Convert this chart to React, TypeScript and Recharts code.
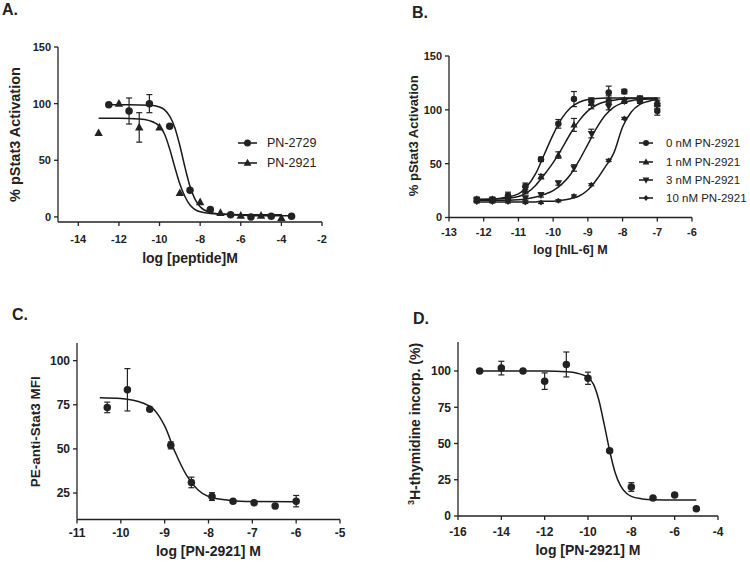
import React from "react";
import { ComposedChart, XAxis, YAxis, Scatter, Line, ErrorBar, Legend } from "recharts";

const FONT = '"Liberation Sans", Arial, sans-serif';
const INK = "#222";

// ---- A: pStat3 vs peptide
const A_X_2729 = [-12.5, -11.5, -10.5, -9.5, -8.5, -7.5, -6.5, -5.5, -4.5, -3.5];
const A_Y_2729 = [99, 93.5, 100, 80, 23.5, 6.5, 2, 0, 0.5, 0.5];
const A_E_2729 = [0, 11.5, 8, 0, 0, 0, 0, 0, 0, 0];
const A_X_2921 = [-13, -12, -11, -10, -9, -8, -7, -6, -5, -4];
const A_Y_2921 = [74, 100, 79, 79, 21, 13, 3.5, 1, 1, -1];
const A_E_2921 = [0, 0, 13, 0, 0, 0, 0, 0, 0, 0];
const A_FIT_X_2729 = [-12.5, -11.5, -10.5, -10, -9.75, -9.5, -9.25, -9, -8.75, -8.5, -8.25, -8, -7.5, -7, -6, -5, -3.5];
const A_FIT_Y_2729 = [99, 99, 98.5, 97, 94.5, 89, 79, 63, 44, 27, 15.5, 9, 4, 2.5, 1.5, 1, 1];
const A_FIT_X_2921 = [-13, -12, -11, -10.5, -10, -9.75, -9.5, -9.25, -9, -8.75, -8.5, -8.25, -8, -7.5, -7, -6, -4];
const A_FIT_Y_2921 = [87, 87, 86.5, 85, 80, 73, 60, 44, 29, 18, 10.5, 6.5, 4.5, 3, 2.5, 2, 2];
const A_XTICKS = [-14, -12, -10, -8, -6, -4, -2];
const A_YTICKS = [0, 50, 100, 150];

// ---- B: pStat3 vs hIL-6 at 4 inhibitor doses
const B_NAMES = ["0 nM PN-2921", "1 nM PN-2921", "3 nM PN-2921", "10 nM PN-2921"];
const B_X = [-12.2, -11.75, -11.3, -10.8, -10.35, -9.85, -9.4, -8.9, -8.4, -7.95, -7.5, -7.0];
const B_Y_0 = [16.5, 16.5, 20.5, 29, 54, 87, 110, 108, 116, 117, 110, 99];
const B_E_0 = [2, 2, 3, 3, 2, 4, 7, 3, 6, 2, 3, 4];
const B_Y_1 = [17, 17, 18, 25, 38, 58, 86, 106, 110, 109, 110, 106];
const B_E_1 = [2, 2, 2, 3, 2, 3, 6, 5, 3, 2, 2, 3];
const B_Y_3 = [16, 16, 16, 18, 21, 32, 46, 78, 103, 108, 110, 104];
const B_E_3 = [2, 2, 2, 2, 2, 2, 3, 4, 3, 2, 2, 3];
const B_Y_10 = [14.5, 14.5, 14.5, 14, 14, 15.5, 20, 30.5, 53, 92, 108, 108];
const B_E_10 = [1, 1, 1, 1, 1, 1, 1, 1, 1, 1, 2, 3];
const B_FIT_X = [-12.2, -11.5, -11, -10.75, -10.5, -10.25, -10, -9.75, -9.5, -9.25, -9, -8.75, -8.5, -8.25, -8, -7.75, -7.5, -7.25, -7];
const B_FIT_0 = [16.5, 18, 22, 29, 41, 59, 77, 92, 102, 107, 109.5, 110.5, 111, 111, 111, 111, 111, 111, 111];
const B_FIT_1 = [17, 17.5, 19.5, 23, 30, 40, 51, 64, 78, 90, 99, 104.5, 107.5, 109, 110, 110.5, 110.5, 110.5, 110.5];
const B_FIT_3 = [16, 16, 16.5, 17.5, 19, 21.5, 25, 31, 40, 53, 68, 83, 95, 102.5, 106.5, 108.5, 109.5, 110, 110];
const B_FIT_10 = [14.5, 14.5, 14.5, 14.5, 14.5, 15, 15, 16, 17.5, 20, 25.5, 35, 47, 60, 84, 98, 105, 108, 109.5];
const B_XTICKS = [-13, -12, -11, -10, -9, -8, -7, -6];
const B_YTICKS = [0, 50, 100, 150];

// ---- C: PE-anti-Stat3 MFI
const C_X = [-10.31, -9.85, -9.34, -8.86, -8.39, -7.92, -7.44, -6.96, -6.48, -6.0];
const C_Y = [73.5, 83.5, 72.5, 52, 31, 23, 20.3, 19.5, 17.6, 20.4];
const C_E = [3, 12, 0.5, 2, 3, 2.2, 0.5, 0.5, 0.5, 3.2];
const C_FIT_X = [-10.48, -10, -9.5, -9.25, -9, -8.75, -8.5, -8.25, -8, -7.5, -7, -6];
const C_FIT_Y = [79, 78.5, 76, 72.5, 63, 47.5, 35, 27, 23, 20.8, 20.2, 20];
const C_XTICKS = [-11, -10, -9, -8, -7, -6, -5];
const C_YTICKS = [25, 50, 75, 100];

// ---- D: 3H-thymidine incorporation
const D_X = [-15, -14, -13, -12, -11, -10, -9, -8, -7, -6, -5];
const D_Y = [100, 102, 100, 93, 104.5, 95, 45, 20, 12.5, 14.5, 5];
const D_E = [0, 4.7, 0, 5.7, 8.6, 4.2, 0, 3, 0, 0, 0];
const D_FIT_X = [-15, -13, -12, -11, -10.5, -10, -9.75, -9.5, -9.25, -9, -8.75, -8.5, -8.25, -8, -7.5, -7, -6, -5];
const D_FIT_Y = [100, 100, 100, 99.5, 98.5, 95.5, 91, 80, 63, 45, 30, 21, 16, 13.5, 11.8, 11.2, 11, 11];
const D_XTICKS = [-16, -14, -12, -10, -8, -6, -4];
const D_YTICKS = [0, 25, 50, 75, 100];

type Kind = "circle" | "up" | "down" | "diamond";

const KIND: Record<string, Kind> = {
  "PN-2729": "circle",
  "PN-2921": "up",
  "0 nM PN-2921": "circle",
  "1 nM PN-2921": "up",
  "3 nM PN-2921": "down",
  "10 nM PN-2921": "diamond",
};

const pts = (xs: number[], ys: number[], es?: number[]) =>
  xs.map((x, i) => ({ x, y: ys[i], err: es ? es[i] : 0 }));

function Marker({ kind, cx, cy, s }: { kind: Kind; cx: number; cy: number; s: number }) {
  const h = s / 2;
  if (kind === "up")
    return <polygon points={`${cx},${cy - 0.62 * s} ${cx + 0.56 * s},${cy + 0.4 * s} ${cx - 0.56 * s},${cy + 0.4 * s}`} fill={INK} />;
  if (kind === "down")
    return <polygon points={`${cx},${cy + 0.62 * s} ${cx + 0.56 * s},${cy - 0.4 * s} ${cx - 0.56 * s},${cy - 0.4 * s}`} fill={INK} />;
  if (kind === "diamond")
    return <polygon points={`${cx},${cy - h} ${cx + h * 0.85},${cy} ${cx},${cy + h} ${cx - h * 0.85},${cy}`} fill={INK} />;
  return <circle cx={cx} cy={cy} r={h} fill={INK} />;
}

const shapeOf = (kind: Kind, s: number) => (p: any) =>
  p.cx == null ? <g /> : <Marker kind={kind} cx={p.cx} cy={p.cy} s={s} />;

function XTitle({ viewBox, text, dy, px }: any) {
  const x = viewBox.x + viewBox.width / 2;
  return (
    <text x={x} y={viewBox.y + dy} textAnchor="middle" fontFamily={FONT} fontWeight={700} fontSize={px} fill={INK}>
      {text}
    </text>
  );
}

function YTitle({ viewBox, text, dx, dy = 0, px, sup }: any) {
  const x = viewBox.x + dx;
  const y = viewBox.y + viewBox.height / 2 + dy;
  return (
    <text x={x} y={y} transform={`rotate(-90 ${x} ${y})`} textAnchor="middle" fontFamily={FONT} fontWeight={700} fontSize={px} fill={INK}>
      {sup ? <tspan fontSize={px * 0.65} dy={-px * 0.4}>{sup}</tspan> : null}
      {sup ? <tspan dy={px * 0.4}>{text}</tspan> : text}
    </text>
  );
}

function LegendBox({ payload, order, rowH, lineW, gap, fontPx, mark }: any) {
  const items = (payload || [])
    .filter((p: any) => p.type !== "none" && order.includes(p.value))
    .sort((a: any, b: any) => order.indexOf(a.value) - order.indexOf(b.value));
  return (
    <div style={{ fontFamily: FONT, color: INK }}>
      {items.map((p: any) => (
        <div key={p.value} style={{ display: "flex", alignItems: "center", height: rowH }}>
          <svg width={lineW} height={12} style={{ display: "block", flex: "none" }}>
            <line x1={0} x2={lineW} y1={6} y2={6} stroke={INK} strokeWidth={1.6} />
            <Marker kind={KIND[p.value]} cx={lineW / 2} cy={6} s={mark} />
          </svg>
          <span style={{ marginLeft: gap, whiteSpace: "nowrap", fontSize: fontPx, fontFamily: FONT }}>{p.value}</span>
        </div>
      ))}
    </div>
  );
}

const axisStroke = { stroke: INK, strokeWidth: 1.3 };
const tickFont = (px: number) => ({ fill: INK, fontSize: px, fontWeight: 700, fontFamily: FONT });

function Letter({ text, left, top }: { text: string; left: number; top: number }) {
  return (
    <div style={{ position: "absolute", left, top, fontFamily: FONT, fontWeight: 700, fontSize: 16, lineHeight: "16px", color: INK }}>
      {text}
    </div>
  );
}

function fitLine(xs: number[], ys: number[], key: string) {
  return (
    <Line key={key} data={pts(xs, ys)} dataKey="y" type="monotone" dot={false} activeDot={false}
      stroke="#1a1a1a" strokeWidth={1.5} legendType="none" isAnimationActive={false} />
  );
}

export default function App() {
  return (
    <div style={{ position: "absolute", left: 0, top: 0, width: 750, height: 568, background: "#fff", overflow: "hidden" }}>
      <Letter text="A." left={2} top={1.5} />
      <Letter text="B." left={412} top={4.5} />
      <Letter text="C." left={12} top={306.5} />
      <Letter text="D." left={413} top={310.5} />

      {/* A */}
      <div style={{ position: "absolute", left: 0, top: 30 }}>
        <ComposedChart width={370} height={250} margin={{ top: 17, right: 48, bottom: 13, left: 0 }}>
          <XAxis type="number" dataKey="x" domain={[-15, -2]} ticks={A_XTICKS} interval={0} allowDataOverflow height={45}
            axisLine={axisStroke} tickLine={axisStroke} tickSize={4} tickMargin={9} tick={tickFont(11)}
            label={<XTitle text="log [peptide]M" dy={40.5} px={14} />} />
          <YAxis type="number" dataKey="y" domain={[-4.5, 150]} ticks={A_YTICKS} interval={0} allowDataOverflow width={58}
            axisLine={axisStroke} tickLine={axisStroke} tickSize={4} tickMargin={3} tick={tickFont(11)}
            label={<YTitle text="% pStat3 Activation" dx={20} px={14.5} />} />
          {fitLine(A_FIT_X_2729, A_FIT_Y_2729, "fa1")}
          {fitLine(A_FIT_X_2921, A_FIT_Y_2921, "fa2")}
          <Scatter name="PN-2729" data={pts(A_X_2729, A_Y_2729, A_E_2729)} shape={shapeOf("circle", 7.5)} isAnimationActive={false}>
            <ErrorBar dataKey="err" direction="y" width={3} stroke={INK} strokeWidth={1.2} isAnimationActive={false} />
          </Scatter>
          <Scatter name="PN-2921" data={pts(A_X_2921, A_Y_2921, A_E_2921)} shape={shapeOf("up", 7.5)} isAnimationActive={false}>
            <ErrorBar dataKey="err" direction="y" width={3} stroke={INK} strokeWidth={1.2} isAnimationActive={false} />
          </Scatter>
          <Legend layout="horizontal" align="center" verticalAlign="middle" wrapperStyle={{ left: 238, top: 103, width: 130 }}
            content={<LegendBox order={["PN-2729", "PN-2921"]} rowH={20} lineW={19} gap={10} fontPx={12.5} mark={7} />} />
        </ComposedChart>
      </div>

      {/* B */}
      <div style={{ position: "absolute", left: 375, top: 30 }}>
        <ComposedChart width={375} height={250} margin={{ top: 26, right: 58, bottom: 17.5, left: 0 }}>
          <XAxis type="number" dataKey="x" domain={[-13, -6]} ticks={B_XTICKS} interval={0} allowDataOverflow height={45}
            axisLine={axisStroke} tickLine={axisStroke} tickSize={4} tickMargin={6.4} tick={tickFont(11)}
            label={<XTitle text="log [hIL-6] M" dy={36.8} px={12.5} />} />
          <YAxis type="number" dataKey="y" domain={[0, 150]} ticks={B_YTICKS} interval={0} allowDataOverflow width={74}
            axisLine={axisStroke} tickLine={axisStroke} tickSize={4} tickMargin={3} tick={tickFont(11)}
            label={<YTitle text="% pStat3 Activation" dx={43} dy={-1} px={13} />} />
          {fitLine(B_FIT_X, B_FIT_0, "fb0")}
          {fitLine(B_FIT_X, B_FIT_1, "fb1")}
          {fitLine(B_FIT_X, B_FIT_3, "fb3")}
          {fitLine(B_FIT_X, B_FIT_10, "fb10")}
          <Scatter name={B_NAMES[0]} data={pts(B_X, B_Y_0, B_E_0)} shape={shapeOf("circle", 6.5)} isAnimationActive={false}>
            <ErrorBar dataKey="err" direction="y" width={3} stroke={INK} strokeWidth={1.2} isAnimationActive={false} />
          </Scatter>
          <Scatter name={B_NAMES[1]} data={pts(B_X, B_Y_1, B_E_1)} shape={shapeOf("up", 6.5)} isAnimationActive={false}>
            <ErrorBar dataKey="err" direction="y" width={3} stroke={INK} strokeWidth={1.2} isAnimationActive={false} />
          </Scatter>
          <Scatter name={B_NAMES[2]} data={pts(B_X, B_Y_3, B_E_3)} shape={shapeOf("down", 6.5)} isAnimationActive={false}>
            <ErrorBar dataKey="err" direction="y" width={3} stroke={INK} strokeWidth={1.2} isAnimationActive={false} />
          </Scatter>
          <Scatter name={B_NAMES[3]} data={pts(B_X, B_Y_10, B_E_10)} shape={shapeOf("diamond", 6)} isAnimationActive={false}>
            <ErrorBar dataKey="err" direction="y" width={3} stroke={INK} strokeWidth={1.2} isAnimationActive={false} />
          </Scatter>
          <Legend layout="horizontal" align="center" verticalAlign="middle" wrapperStyle={{ left: 264, top: 104, width: 111 }}
            content={<LegendBox order={B_NAMES} rowH={18.4} lineW={14} gap={13} fontPx={11.5} mark={6} />} />
        </ComposedChart>
      </div>

      {/* C */}
      <div style={{ position: "absolute", left: 0, top: 290 }}>
        <ComposedChart width={370} height={278} margin={{ top: 53, right: 30, bottom: 8.5, left: 0 }}>
          <XAxis type="number" dataKey="x" domain={[-11, -5]} ticks={C_XTICKS} interval={0} allowDataOverflow height={40}
            axisLine={axisStroke} tickLine={axisStroke} tickSize={4} tickMargin={5.3} tick={tickFont(12)}
            label={<XTitle text="log [PN-2921] M" dy={36.5} px={14} />} />
          <YAxis type="number" dataKey="y" domain={[10, 110]} ticks={C_YTICKS} interval={0} allowDataOverflow width={77}
            axisLine={axisStroke} tickLine={axisStroke} tickSize={4} tickMargin={3} tick={tickFont(12)}
            label={<YTitle text="PE-anti-Stat3  MFI" dx={40} dy={0.5} px={13.5} />} />
          {fitLine(C_FIT_X, C_FIT_Y, "fc")}
          <Scatter name="PE-anti-Stat3 MFI" data={pts(C_X, C_Y, C_E)} shape={shapeOf("circle", 7.5)} legendType="none" isAnimationActive={false}>
            <ErrorBar dataKey="err" direction="y" width={3} stroke={INK} strokeWidth={1.2} isAnimationActive={false} />
          </Scatter>
        </ComposedChart>
      </div>

      {/* D */}
      <div style={{ position: "absolute", left: 375, top: 290 }}>
        <ComposedChart width={375} height={278} margin={{ top: 52, right: 32, bottom: 12, left: 0 }}>
          <XAxis type="number" dataKey="x" domain={[-16, -4]} ticks={D_XTICKS} interval={0} allowDataOverflow height={40}
            axisLine={axisStroke} tickLine={axisStroke} tickSize={4} tickMargin={7.2} tick={tickFont(12)}
            label={<XTitle text="log [PN-2921] M" dy={39} px={14} />} />
          <YAxis type="number" dataKey="y" domain={[0, 120]} ticks={D_YTICKS} interval={0} allowDataOverflow width={83}
            axisLine={axisStroke} tickLine={axisStroke} tickSize={4} tickMargin={3} tick={tickFont(12)}
            label={<YTitle text="H-thymidine incorp. (%)" sup="3" dx={45} dy={-5} px={14} />} />
          {fitLine(D_FIT_X, D_FIT_Y, "fd")}
          <Scatter name="thymidine" data={pts(D_X, D_Y, D_E)} shape={shapeOf("circle", 7.5)} legendType="none" isAnimationActive={false}>
            <ErrorBar dataKey="err" direction="y" width={3} stroke={INK} strokeWidth={1.2} isAnimationActive={false} />
          </Scatter>
        </ComposedChart>
      </div>
    </div>
  );
}
